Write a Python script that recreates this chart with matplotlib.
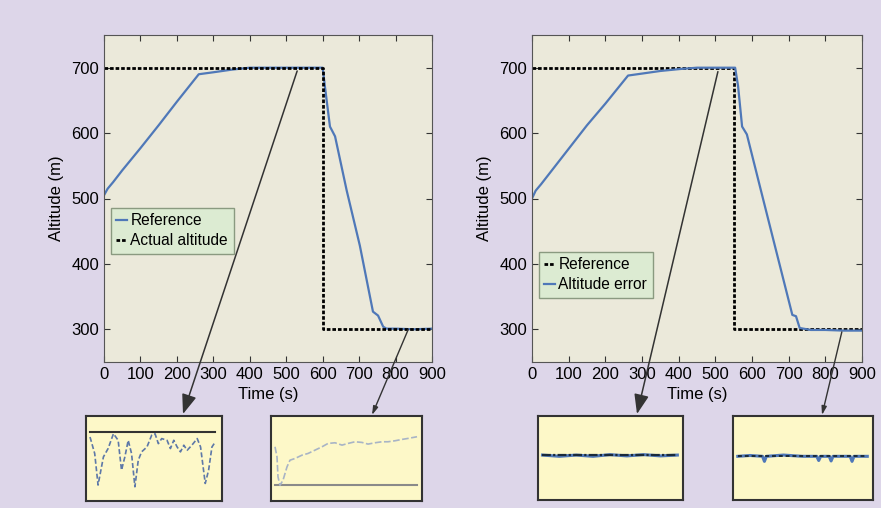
import matplotlib.pyplot as plt

plt.rcParams['font.family'] = ['Liberation Sans', 'DejaVu Sans']

# main series, left panel
t_left_blue = [0, 10, 25, 50, 100, 150, 200, 260, 300, 350, 400, 450, 500, 550, 600, 606, 620, 634, 666, 702, 738, 752, 766, 775, 800, 850, 900]
alt_left_blue = [505, 515, 525, 543, 577, 612, 648, 690, 693, 697, 700, 700, 700, 700, 700, 672, 610, 595, 512, 428, 327, 321, 304, 301, 301, 300, 301]
t_left_black = [0, 600, 600, 900]
alt_left_black = [700, 700, 300, 300]

# main series, right panel
t_right_blue = [0, 10, 25, 50, 100, 150, 200, 262, 300, 350, 404, 450, 500, 554, 562, 573, 586, 620, 660, 710, 720, 730, 760, 800, 850, 900]
alt_right_blue = [500, 512, 522, 540, 576, 612, 645, 688, 691, 695, 698, 700, 700, 700, 672, 610, 598, 522, 433, 322, 320, 302, 299, 299, 298, 298]
t_right_black = [0, 550, 550, 900]
alt_right_black = [700, 700, 300, 300]

# zoomed insets
ins1_t = [415, 422, 427, 435, 442, 450, 457, 462, 467, 472, 477, 482, 487, 492, 500, 507, 512, 517, 522, 530, 535, 540, 545, 550, 555, 560, 567, 575, 580, 587, 592, 597, 602]
ins1_dev = [-0.38, -1.63, -4.0, -1.88, -1.25, -0.13, -0.63, -2.88, -1.88, -0.63, -1.63, -4.13, -2.13, -1.5, -1.13, -0.25, -0.13, -0.88, -0.5, -0.63, -1.25, -0.63, -1.13, -1.5, -1.0, -1.38, -1.0, -0.5, -1.13, -3.88, -2.88, -1.13, -0.75]
ins2_t = [750, 752, 753, 755, 758, 762, 765, 770, 777, 783, 790, 797, 803, 810, 817, 823, 830, 837, 843, 850, 857, 863, 870, 877, 883, 892]
ins2_alt = [311.5, 308.5, 302.5, 300, 301.5, 305.5, 307.5, 308, 309, 309.5, 310.5, 311.5, 312.5, 312.7, 312, 312.5, 313, 312.8, 312.3, 312.7, 313, 313, 313.3, 313.7, 314, 314.5]
ins3_t = [420, 435, 450, 465, 480, 495, 510, 525, 540]
ins3_err = [0.01, -0.02, 0.01, -0.02, 0.02, -0.01, 0.02, -0.01, 0.01]
ins4_t = [752, 765, 778, 780, 782, 800, 820, 835, 837, 839, 848, 850, 852, 870, 872, 874, 888]
ins4_err = [0.0, 0.02, 0.0, -0.12, 0.0, 0.03, 0.0, 0.0, -0.1, 0.0, 0.0, -0.11, 0.0, 0.0, -0.12, 0.0, 0.0]

BLUE = '#4f78b8'
BG = '#ddd6e9'
AX_BG = '#ebe9da'
INS_BG = '#fdf8c8'
LEG_BG = '#dcebd2'

fig = plt.figure(figsize=(8.81, 5.08), dpi=100, facecolor=BG)
W, H = 881, 508


def px(x0, y0, x1, y1):
    return [x0 / W, 1 - y1 / H, (x1 - x0) / W, (y1 - y0) / H]


def style_main(ax):
    ax.set_facecolor(AX_BG)
    ax.set_xlim(0, 900)
    ax.set_ylim(250, 750)
    ax.set_xticks(range(0, 901, 100))
    ax.set_yticks([300, 400, 500, 600, 700])
    ax.tick_params(direction='in', top=True, right=True, length=4, labelsize=12, color='#333333')
    for s in ax.spines.values():
        s.set_color('#555555')
    ax.set_xlabel('Time (s)', fontsize=12, labelpad=4)
    ax.set_ylabel('Altitude (m)', fontsize=12, labelpad=5)


axL = fig.add_axes(px(104, 35, 432, 362))
axR = fig.add_axes(px(532, 35, 862, 362))

lb, = axL.plot(t_left_blue, alt_left_blue, color=BLUE, lw=1.6)
lk, = axL.plot(t_left_black, alt_left_black, color='black', lw=2.0, ls=(0, (1.3, 0.7)))
rk, = axR.plot(t_right_black, alt_right_black, color='black', lw=2.0, ls=(0, (1.3, 0.7)))
rb, = axR.plot(t_right_blue, alt_right_blue, color=BLUE, lw=1.6)

for ax in (axL, axR):
    style_main(ax)

leg_kw = dict(loc='upper left', fontsize=11.2, handlelength=0.7, handletextpad=0.2,
              borderpad=0.35, labelspacing=0.3, borderaxespad=0, fancybox=False,
              facecolor=LEG_BG, edgecolor='#8a9a80', framealpha=1,
              bbox_transform=fig.transFigure)
axL.legend([lb, lk], ['Reference', 'Actual altitude'], bbox_to_anchor=(111 / W, 1 - 208 / H), **leg_kw)
axR.legend([rk, rb], ['Reference', 'Altitude error'], bbox_to_anchor=(539 / W, 1 - 252 / H), **leg_kw)


def inset(box):
    a = fig.add_axes(px(*box))
    a.set_facecolor(INS_BG)
    a.set_xticks([])
    a.set_yticks([])
    for s in a.spines.values():
        s.set_color('#333333')
        s.set_linewidth(1.5)
    return a


i1 = inset((86, 416, 222, 501))
i1.plot([415, 602], [0, 0], color='#333333', lw=1.5)
i1.plot(ins1_t, ins1_dev, color='#5d78a8', lw=1.2, ls=(0, (3, 1.5)))
i1.set_xlim(409, 612)
i1.set_ylim(-5.2, 1.2)

i2 = inset((271, 416, 422, 501))
i2.plot([750, 892], [300, 300], color='#8a8a8a', lw=1.5)
i2.plot(ins2_t, ins2_alt, color='#a8b4c6', lw=1.2, ls=(0, (4, 1.5)))
i2.set_xlim(746, 897)
i2.set_ylim(295.3, 320.7)

i3 = inset((538, 416, 683, 500))
i3.plot(ins3_t, ins3_err, color=BLUE, lw=2.2)
i3.plot([420, 540], [0, 0], color='#1a2a3a', lw=1.6, ls=(0, (4, 1, 1, 1)))
i3.set_xlim(416, 545)
i3.set_ylim(-1.06, 0.94)

i4 = inset((733, 416, 873, 500))
i4.plot(ins4_t, ins4_err, color=BLUE, lw=2.2)
i4.plot([752, 888], [0, 0], color='#1a2a3a', lw=1.4, ls=(0, (2, 1.5)))
i4.set_xlim(747, 894)
i4.set_ylim(-1.04, 0.96)

# connector arrows from the curves to the insets
big = dict(arrowstyle='-|>,head_length=1.2,head_width=0.45', color='#333333', lw=1.1, shrinkA=0, shrinkB=0)
small = dict(arrowstyle='-|>,head_length=0.5,head_width=0.15', color='#333333', lw=1.0, shrinkA=0, shrinkB=0)
axL.annotate('', xy=(183 / W, 1 - 414 / H), xycoords='figure fraction', xytext=(530, 695),
             textcoords='data', arrowprops=big, annotation_clip=False)
axL.annotate('', xy=(372 / W, 1 - 415 / H), xycoords='figure fraction', xytext=(835, 300),
             textcoords='data', arrowprops=small, annotation_clip=False)
axR.annotate('', xy=(637 / W, 1 - 414 / H), xycoords='figure fraction', xytext=(507, 694),
             textcoords='data', arrowprops=big, annotation_clip=False)
axR.annotate('', xy=(822 / W, 1 - 415 / H), xycoords='figure fraction', xytext=(845, 296),
             textcoords='data', arrowprops=small, annotation_clip=False)

fig.savefig('out.png', dpi=100, facecolor=BG)
